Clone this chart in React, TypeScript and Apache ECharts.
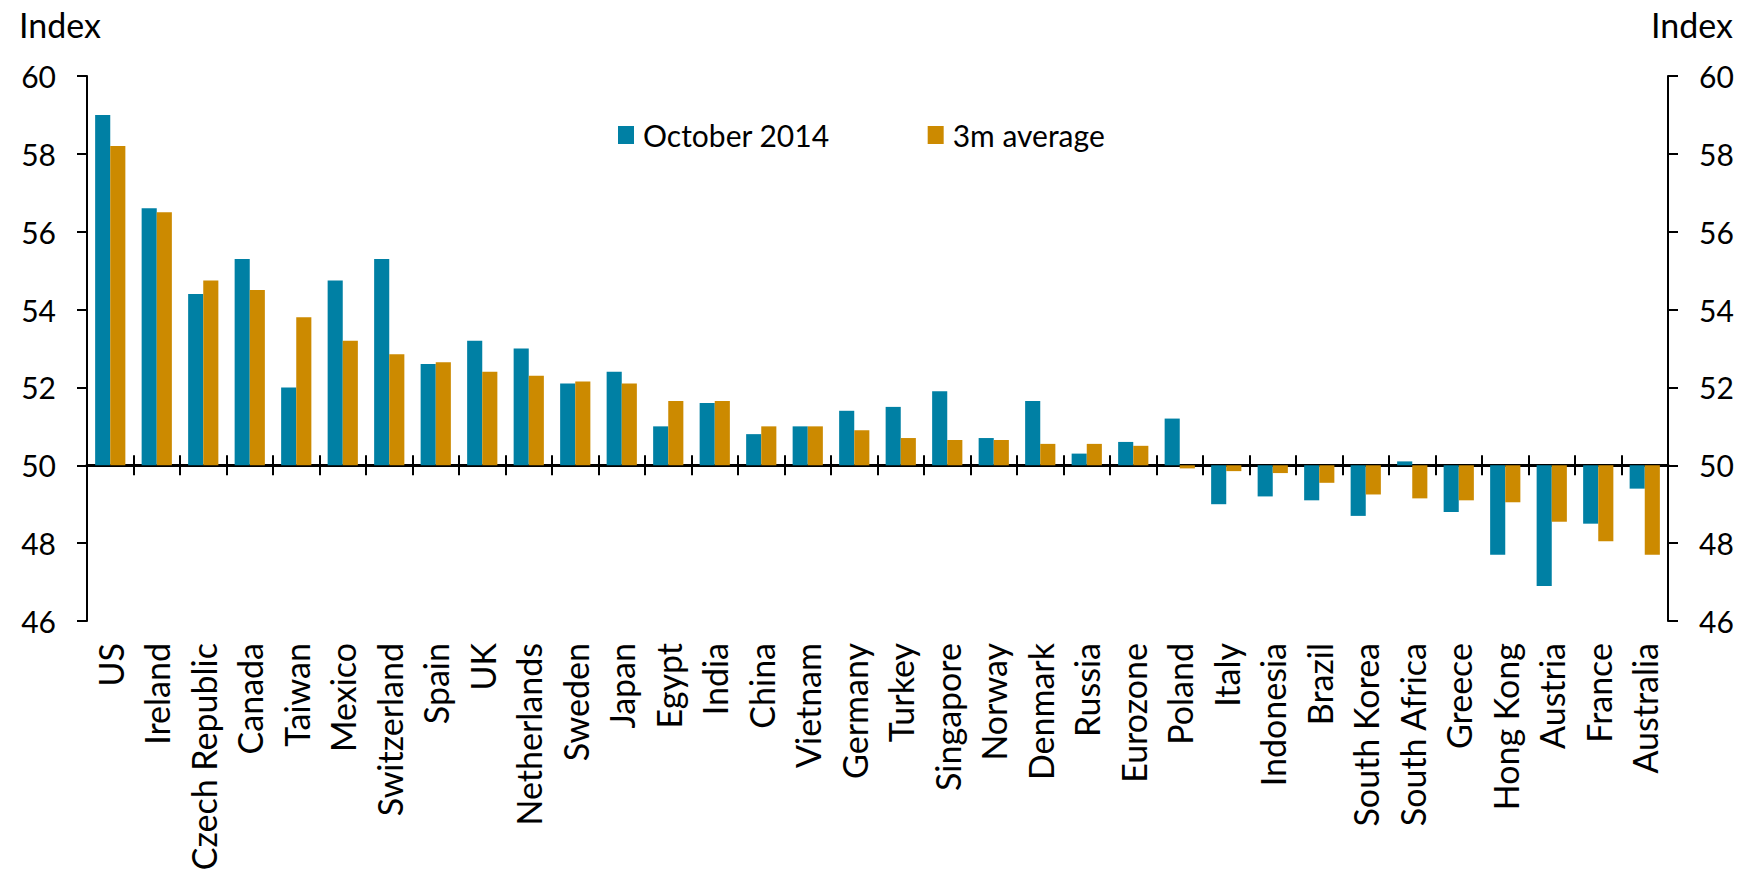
import React, { useEffect, useRef } from "react";
import * as echarts from "echarts";

const countries = [
  "US", "Ireland", "Czech Republic", "Canada", "Taiwan", "Mexico", "Switzerland", "Spain",
  "UK", "Netherlands", "Sweden", "Japan", "Egypt", "India", "China", "Vietnam",
  "Germany", "Turkey", "Singapore", "Norway", "Denmark", "Russia", "Eurozone", "Poland",
  "Italy", "Indonesia", "Brazil", "South Korea", "South Africa", "Greece", "Hong Kong", "Austria",
  "France", "Australia",
];

const october2014 = [
  59.0, 56.6, 54.4, 55.3, 52.0, 54.75, 55.3, 52.6,
  53.2, 53.0, 52.1, 52.4, 51.0, 51.6, 50.8, 51.0,
  51.4, 51.5, 51.9, 50.7, 51.65, 50.3, 50.6, 51.2,
  49.0, 49.2, 49.1, 48.7, 50.1, 48.8, 47.7, 46.9,
  48.5, 49.4,
];

const threeMonthAverage = [
  58.2, 56.5, 54.75, 54.5, 53.8, 53.2, 52.85, 52.65,
  52.4, 52.3, 52.15, 52.1, 51.65, 51.65, 51.0, 51.0,
  50.9, 50.7, 50.65, 50.65, 50.55, 50.55, 50.5, 49.92,
  49.85, 49.8, 49.55, 49.25, 49.15, 49.1, 49.05, 48.55,
  48.05, 47.7,
];

const BASE = 50;
const axisMin = 46;
const axisMax = 60;
const axisStep = 2;

const FONT = "Lato";

export default function App() {
  const ref = useRef<HTMLDivElement>(null);

  useEffect(() => {
    if (!ref.current) return;
    const chart = echarts.init(ref.current, null, { renderer: "svg" });
    const cats = countries;
    const yAxisCommon = {
      type: "value",
      min: axisMin - BASE,
      max: axisMax - BASE,
      interval: axisStep,
      splitLine: { show: false },
      axisLine: { show: true, lineStyle: { color: "#000", width: 2 } },
      axisTick: { show: true, length: 10, lineStyle: { color: "#000", width: 2 } },
      axisLabel: {
        color: "#000",
        fontFamily: FONT,
        fontSize: 30,
        margin: 31,
        formatter: (v: number) => String(v + BASE),
      },
    };
    chart.setOption({
      animation: false,
      backgroundColor: "#fff",
      textStyle: { fontFamily: FONT },
      grid: { left: 87, right: 81, top: 76, bottom: 254, containLabel: false },
      legend: {
        left: 613,
        top: 115,
        icon: "rect",
        itemWidth: 16,
        itemHeight: 18,
        itemGap: 98,
        textStyle: { fontFamily: FONT, fontSize: 30, color: "#000", padding: [0, 0, 0, 4] },
        data: ["October 2014", "3m average"],
      },
      xAxis: [
        {
          type: "category",
          data: cats,
          position: "bottom",
          axisLine: { show: false, onZero: false },
          axisTick: { show: false },
          axisLabel: {
            rotate: 90,
            interval: 0,
            color: "#000",
            fontFamily: FONT,
            fontSize: 34,
            margin: 22,
          },
        },
        {
          type: "category",
          data: cats,
          position: "bottom",
          axisLine: { show: true, onZero: true, lineStyle: { color: "#000", width: 3 } },
          axisTick: { show: true, inside: true, interval: 0, length: 10, lineStyle: { color: "#000", width: 2 } },
          axisLabel: { show: false },
        },
        {
          type: "category",
          data: cats,
          position: "bottom",
          axisLine: { show: true, onZero: true, lineStyle: { color: "#000", width: 3 } },
          axisTick: { show: true, inside: false, interval: 0, length: 10, lineStyle: { color: "#000", width: 2 } },
          axisLabel: { show: false },
        },
      ],
      yAxis: [
        { ...yAxisCommon, position: "left" },
        { ...yAxisCommon, position: "right" },
      ],
      graphic: [
        {
          type: "text",
          left: 19,
          top: 7,
          style: { text: "Index", fontFamily: FONT, fontSize: 34, fill: "#000" },
        },
        {
          type: "text",
          right: 16,
          top: 7,
          style: { text: "Index", fontFamily: FONT, fontSize: 34, fill: "#000" },
        },
      ],
      series: [
        {
          name: "October 2014",
          type: "bar",
          xAxisIndex: 0,
          yAxisIndex: 0,
          barGap: "0%",
          barCategoryGap: "35%",
          itemStyle: { color: "#0080a4" },
          data: october2014.map((v) => +(v - BASE).toFixed(3)),
        },
        {
          name: "3m average",
          type: "bar",
          xAxisIndex: 0,
          yAxisIndex: 0,
          barGap: "0%",
          barCategoryGap: "35%",
          itemStyle: { color: "#cc8a00" },
          data: threeMonthAverage.map((v) => +(v - BASE).toFixed(3)),
        },
      ],
    });
    return () => chart.dispose();
  }, []);

  return (
    <div
      ref={ref}
      style={{ position: "fixed", left: 0, top: 0, width: 1749, height: 875, background: "#fff" }}
    />
  );
}
